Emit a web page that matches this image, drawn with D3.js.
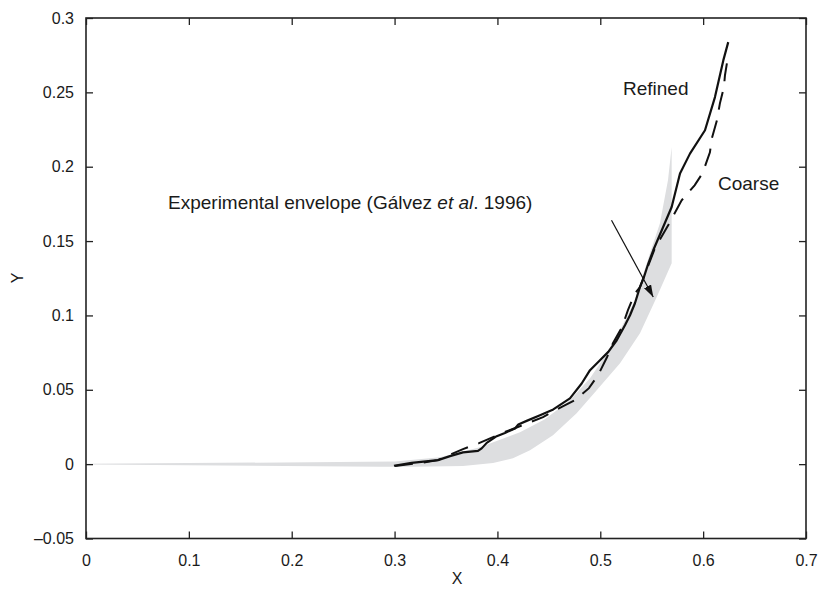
<!DOCTYPE html>
<html>
<head>
<meta charset="utf-8">
<script src="https://cdn.jsdelivr.net/npm/d3@7"></script>
<style>
  html, body { margin: 0; padding: 0; background: #fff; }
  svg { display: block; }
  text { font-family: "Liberation Sans", Arial, sans-serif; fill: #1a1a1a; }
</style>
</head>
<body>
<svg id="chart" width="822" height="595"></svg>
<script>
// Refined mesh result (solid line)
const refinedX = [0.2994, 0.3166, 0.3328, 0.3422, 0.3539, 0.3665, 0.3811, 0.3847, 0.3896, 0.3993,
  0.4073, 0.4171, 0.4203, 0.4284, 0.4414, 0.4543, 0.4705, 0.4819, 0.4900, 0.4997,
  0.5078, 0.5160, 0.5240, 0.5289, 0.5337, 0.5386, 0.5425, 0.5467, 0.5515, 0.5694,
  0.5775, 0.5872, 0.6018, 0.6115, 0.6196, 0.6244];
const refinedY = [-0.0011, 0.0009, 0.0020, 0.0027, 0.0054, 0.0079, 0.0089, 0.0106, 0.0143, 0.0188,
  0.0210, 0.0240, 0.0267, 0.0291, 0.0329, 0.0368, 0.0442, 0.0542, 0.0632, 0.0699,
  0.0755, 0.0833, 0.0934, 0.1001, 0.1082, 0.1192, 0.1259, 0.1349, 0.1438, 0.1729,
  0.1954, 0.2088, 0.2245, 0.2468, 0.2715, 0.2838];

// Coarse mesh result (dashed line)
const coarseX = [0.3004, 0.3250, 0.3422, 0.3490, 0.3665, 0.3821, 0.4050, 0.4297, 0.4443, 0.4625,
  0.4754, 0.4890, 0.4978, 0.5065, 0.5123, 0.5211, 0.5269, 0.5337, 0.5386, 0.5530,
  0.5660, 0.5791, 0.5917, 0.5994, 0.6066, 0.6085, 0.6134, 0.6163, 0.6202, 0.6212, 0.6231];
const coarseY = [-0.0013, 0.0008, 0.0027, 0.0049, 0.0101, 0.0141, 0.0210, 0.0276, 0.0316, 0.0385,
  0.0430, 0.0511, 0.0598, 0.0719, 0.0813, 0.0921, 0.1035, 0.1149, 0.1190, 0.1450,
  0.1606, 0.1774, 0.1875, 0.1956, 0.2097, 0.2191, 0.2312, 0.2426, 0.2534, 0.2614, 0.2695];

// Experimental envelope: upper edge (left to right), then lower edge (right to left)
const envUpperX = [0, 0.3004, 0.3442, 0.3830, 0.4219, 0.4462, 0.4705, 0.4900, 0.5046, 0.5192,
  0.5337, 0.5483, 0.5580, 0.5658, 0.5694];
const envUpperY = [0.0002, 0.0017, 0.0047, 0.0114, 0.0215, 0.0302, 0.0430, 0.0578, 0.0726, 0.0901,
  0.1102, 0.1418, 0.1620, 0.1909, 0.2132];
const envLowerX = [0.5694, 0.5548, 0.5386, 0.5192, 0.4965, 0.4770, 0.4540, 0.4317, 0.4151, 0.3957,
  0.3665, 0.3179, 0.2858, 0];
const envLowerY = [0.1351, 0.1122, 0.0880, 0.0679, 0.0497, 0.0343, 0.0195, 0.0094, 0.0040, 0.0007,
  -0.0013, -0.0018, -0.0018, -0.0002];

// Axis ticks
const xTicks = [0, 0.1, 0.2, 0.3, 0.4, 0.5, 0.6, 0.7];
const xTickLabels = ["0", "0.1", "0.2", "0.3", "0.4", "0.5", "0.6", "0.7"];
const yTicks = [-0.05, 0, 0.05, 0.1, 0.15, 0.2, 0.25, 0.3];
const yTickLabels = ["\u20130.05", "0", "0.05", "0.1", "0.15", "0.2", "0.25", "0.3"];

// Annotation arrow (data coordinates): tail and head
const arrowFrom = [0.5109, 0.1640];
const arrowTo = [0.5515, 0.1124];

const svg = d3.select("#chart");
const plotLeft = 86, plotRight = 806, plotTop = 18, plotBottom = 538.5;

const x = d3.scaleLinear().domain([0, 0.7]).range([plotLeft, plotRight]);
const y = d3.scaleLinear().domain([-0.05, 0.3]).range([plotBottom, plotTop]);

// Envelope
const envPts = envUpperX.map((v, i) => [v, envUpperY[i]])
  .concat(envLowerX.map((v, i) => [v, envLowerY[i]]));
svg.append("path")
  .attr("d", d3.line().x(d => x(d[0])).y(d => y(d[1]))(envPts) + "Z")
  .attr("fill", "#dddee0")
  .attr("stroke", "none");

// Curves
const line = d3.line().x(d => x(d[0])).y(d => y(d[1]));
svg.append("path")
  .attr("d", line(coarseX.map((v, i) => [v, coarseY[i]])))
  .attr("fill", "none")
  .attr("stroke", "#111")
  .attr("stroke-width", 2)
  .attr("stroke-dasharray", "18,11");
svg.append("path")
  .attr("d", line(refinedX.map((v, i) => [v, refinedY[i]])))
  .attr("fill", "none")
  .attr("stroke", "#111")
  .attr("stroke-width", 2.2)
  .attr("stroke-linejoin", "round");

// Arrow
const defs = svg.append("defs");
defs.append("marker")
  .attr("id", "arrowhead")
  .attr("viewBox", "0 0 12 8")
  .attr("refX", 12).attr("refY", 4)
  .attr("markerWidth", 12).attr("markerHeight", 8)
  .attr("markerUnits", "userSpaceOnUse")
  .attr("orient", "auto")
  .append("path")
  .attr("d", "M0,0 L12,4 L0,8 Z")
  .attr("fill", "#111");
svg.append("line")
  .attr("x1", x(arrowFrom[0])).attr("y1", y(arrowFrom[1]))
  .attr("x2", x(arrowTo[0])).attr("y2", y(arrowTo[1]))
  .attr("stroke", "#111")
  .attr("stroke-width", 1.2)
  .attr("marker-end", "url(#arrowhead)");

// Axes with inward ticks on all four sides
const tickLen = 7;
const gBottom = svg.append("g").attr("transform", `translate(0,${plotBottom})`)
  .call(d3.axisBottom(x).tickValues(xTicks).tickSizeInner(-tickLen).tickSizeOuter(0)
    .tickFormat((d, i) => xTickLabels[i]).tickPadding(16));
const gTop = svg.append("g").attr("transform", `translate(0,${plotTop})`)
  .call(d3.axisTop(x).tickValues(xTicks).tickSizeInner(-tickLen).tickSizeOuter(0).tickFormat(""));
const gLeft = svg.append("g").attr("transform", `translate(${plotLeft},0)`)
  .call(d3.axisLeft(y).tickValues(yTicks).tickSizeInner(-tickLen).tickSizeOuter(0)
    .tickFormat((d, i) => yTickLabels[i]).tickPadding(12));
const gRight = svg.append("g").attr("transform", `translate(${plotRight},0)`)
  .call(d3.axisRight(y).tickValues(yTicks).tickSizeInner(-tickLen).tickSizeOuter(0).tickFormat(""));

[gBottom, gTop, gLeft, gRight].forEach(g => {
  g.select(".domain").remove();
  g.selectAll(".tick line").attr("stroke", "#222").attr("stroke-width", 1.3);
  g.selectAll("text")
    .style("font-family", "'Liberation Sans', Arial, sans-serif")
    .style("font-size", "16px")
    .attr("fill", "#1a1a1a");
});

// Frame
svg.append("rect")
  .attr("x", plotLeft).attr("y", plotTop)
  .attr("width", plotRight - plotLeft).attr("height", plotBottom - plotTop)
  .attr("fill", "none")
  .attr("stroke", "#222")
  .attr("stroke-width", 1.6);

// Axis titles
svg.append("text")
  .attr("x", (plotLeft + plotRight) / 2 + 11).attr("y", 584)
  .attr("text-anchor", "middle")
  .style("font-size", "16px")
  .text("X");
svg.append("text")
  .attr("transform", "translate(23,278) rotate(-90)")
  .attr("text-anchor", "middle")
  .style("font-size", "16px")
  .text("Y");

// Annotations
const ann = svg.append("text")
  .attr("x", 168).attr("y", 209)
  .style("font-size", "19px");
ann.append("tspan").text("Experimental envelope (G\u00e1lvez ");
ann.append("tspan").style("font-style", "italic").text("et al");
ann.append("tspan").text(". 1996)");

svg.append("text")
  .attr("x", 623).attr("y", 95)
  .style("font-size", "19px")
  .text("Refined");
svg.append("text")
  .attr("x", 718).attr("y", 190)
  .style("font-size", "19px")
  .text("Coarse");
</script>
</body>
</html>
